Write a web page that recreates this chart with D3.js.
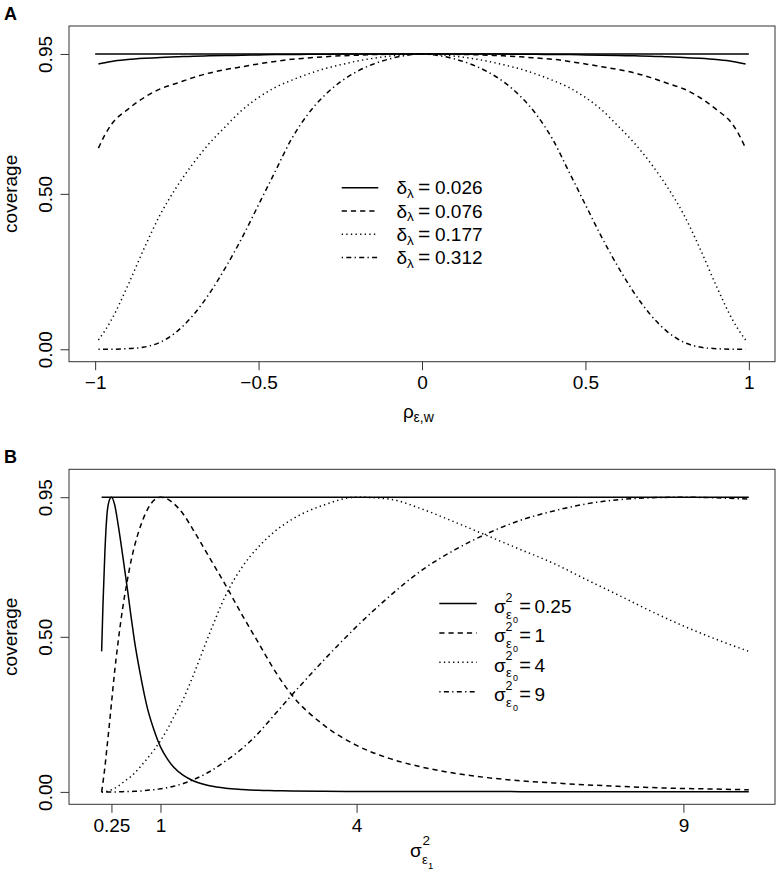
<!DOCTYPE html>
<html><head><meta charset="utf-8">
<script src="https://cdn.jsdelivr.net/npm/d3@7"></script>
<style>
body{margin:0;background:#fff}
text{font-family:"Liberation Sans",Arial,Helvetica,sans-serif;fill:#000}
</style>
</head><body>
<svg id="chart" width="780" height="871"></svg>
<script>
// ---------- DATA ----------
// Panel A: correlation rho and coverage for each delta_lambda
const rho = [-0.99,-0.97,-0.95,-0.9,-0.85,-0.8,-0.75,-0.7,-0.65,-0.6,-0.55,-0.5,-0.45,-0.4,-0.35,-0.3,-0.25,-0.2,-0.15,-0.1,-0.05,0,
             0.05,0.1,0.15,0.2,0.25,0.3,0.35,0.4,0.45,0.5,0.55,0.6,0.65,0.7,0.75,0.8,0.85,0.9,0.95,0.97,0.99];
const covDelta026 = [0.918,0.922,0.926,0.932,0.936,0.939,0.941,0.943,0.944,0.945,0.946,0.947,0.948,0.948,0.949,0.949,0.95,0.95,0.95,0.95,0.95,0.95,
                     0.95,0.95,0.95,0.95,0.95,0.949,0.949,0.948,0.948,0.947,0.946,0.945,0.944,0.943,0.941,0.939,0.936,0.932,0.926,0.922,0.918];
const covDelta076 = [0.647,0.69,0.724,0.772,0.81,0.838,0.856,0.874,0.889,0.9,0.909,0.918,0.926,0.933,0.937,0.941,0.944,0.946,0.948,0.949,0.95,0.95,
                     0.95,0.949,0.948,0.946,0.944,0.941,0.937,0.933,0.926,0.918,0.909,0.9,0.889,0.874,0.856,0.838,0.81,0.772,0.724,0.69,0.647];
const covDelta177 = [0.03,0.06,0.095,0.205,0.325,0.435,0.523,0.598,0.663,0.718,0.77,0.81,0.842,0.865,0.885,0.902,0.915,0.927,0.936,0.943,0.948,0.95,
                     0.948,0.943,0.936,0.927,0.915,0.902,0.885,0.865,0.842,0.81,0.77,0.718,0.663,0.598,0.523,0.435,0.325,0.205,0.095,0.06,0.03];
const covDelta312 = [0,0,0,0.002,0.007,0.023,0.057,0.11,0.18,0.265,0.36,0.465,0.57,0.675,0.755,0.815,0.86,0.893,0.917,0.934,0.945,0.95,
                     0.945,0.934,0.917,0.893,0.86,0.815,0.755,0.675,0.57,0.465,0.36,0.265,0.18,0.11,0.057,0.023,0.007,0.002,0,0,0];
const deltaLabels = ["0.026","0.076","0.177","0.312"];

// Panel B: sigma^2_eps1 and coverage for each sigma^2_eps0
const sigma1 = [0.1,0.12,0.15,0.18,0.21,0.25,0.3,0.35,0.4,0.45,0.5,0.55,0.6,0.7,0.8,0.9,1,1.1,1.2,1.35,1.5,1.75,2,2.25,2.5,2.75,3,
                3.5,4,4.5,5,5.5,6,6.5,7,7.5,8,8.5,9,9.5,10];
const covSigma025 = [0.453,0.6,0.775,0.89,0.935,0.95,0.925,0.865,0.795,0.72,0.645,0.565,0.49,0.37,0.27,0.2,0.145,0.108,0.08,0.053,0.036,0.02,0.012,0.008,0.005,0.004,0.003,
                     0.002,0.0015,0.001,0.001,0.001,0.001,0.0008,0.0007,0.0006,0.0005,0.0005,0.0004,0.0004,0.0003];
const covSigma1   = [0,0.03,0.08,0.14,0.2,0.285,0.39,0.48,0.56,0.63,0.69,0.745,0.79,0.86,0.91,0.94,0.95,0.945,0.93,0.895,0.845,0.755,0.665,0.57,0.48,0.39,0.315,
                     0.215,0.15,0.108,0.08,0.06,0.046,0.036,0.029,0.023,0.018,0.014,0.011,0.009,0.007];
const covSigma4   = [0,0,0.001,0.002,0.004,0.007,0.012,0.018,0.026,0.034,0.042,0.05,0.06,0.083,0.108,0.135,0.165,0.2,0.24,0.3,0.375,0.51,0.635,0.725,0.79,0.84,0.877,
                     0.925,0.95,0.944,0.912,0.87,0.826,0.782,0.738,0.686,0.635,0.583,0.535,0.492,0.453];
const covSigma9   = [0,0,0,0,0,0,0,0,0.0005,0.001,0.001,0.0015,0.002,0.003,0.005,0.007,0.01,0.013,0.018,0.027,0.039,0.065,0.1,0.14,0.19,0.25,0.31,
                     0.425,0.533,0.63,0.715,0.78,0.833,0.875,0.905,0.928,0.942,0.948,0.95,0.948,0.944];
const sigmaLabels = ["0.25","1","4","9"];

// nominal level and axis ticks
const nominal = 0.95;
const nominalSpanA = [-1, 1];
const nominalSpanB = [0.1, 10];
const yTicks = [0, 0.5, 0.95];
const yTickLabels = ["0.00","0.50","0.95"];
const xTicksA = [-1,-0.5,0,0.5,1];
const xTickLabelsA = ["\u22121","\u22120.5","0","0.5","1"];
const xTicksB = [0.25,1,4,9];
const xTickLabelsB = ["0.25","1","4","9"];

// ---------- STYLE ----------
const dashes = [null, "5.2,4", "1.3,3.3", "1.3,3.3,5,3.3"];
const FS = 19;
const svg = d3.select("#chart");

function panel(cfg){
  const {top, bottom, xDomain, xRange, xTicks, xLabels} = cfg;
  const x = d3.scaleLinear().domain(xDomain).range(xRange);
  const y = d3.scaleLinear().domain([0,1]).range([bottom - 0.04/1.08*(bottom-top), top + 0.04/1.08*(bottom-top)]);
  const left = 69, right = 775;
  const g = svg.append("g");
  g.append("rect").attr("x",left).attr("y",top).attr("width",right-left).attr("height",bottom-top)
    .attr("fill","none").attr("stroke","#333").attr("stroke-width",1);
  const xa = g.append("g").attr("transform",`translate(0,${bottom})`)
    .call(d3.axisBottom(x).tickValues(xTicks).tickFormat((d,i)=>xLabels[i]).tickSize(8.5).tickSizeOuter(0));
  xa.select(".domain").remove();
  xa.selectAll("line").attr("stroke","#333");
  xa.selectAll("text").attr("y",27.5).attr("dy",null).attr("font-size",FS)
    .attr("font-family",'"Liberation Sans",Arial,sans-serif').attr("fill","#000");
  const ya = g.append("g").attr("transform",`translate(${left},0)`)
    .call(d3.axisLeft(y).tickValues(yTicks).tickFormat((d,i)=>yTickLabels[i]).tickSize(8.5).tickSizeOuter(0));
  ya.select(".domain").remove();
  ya.selectAll("line").attr("stroke","#333");
  ya.selectAll("text").attr("transform","rotate(-90)").attr("x",0).attr("y",-17.3).attr("dy",null)
    .attr("text-anchor","middle").attr("font-size",FS)
    .attr("font-family",'"Liberation Sans",Arial,sans-serif').attr("fill","#000");
  const cy = (top+bottom)/2;
  g.append("text").attr("transform",`translate(16.5,${cy}) rotate(-90)`).attr("text-anchor","middle")
    .attr("font-size",FS).text("coverage");
  return {g, x, y};
}

function drawLines(p, xs, series, span){
  const line = d3.line().x(d=>p.x(d[0])).y(d=>p.y(d[1])).curve(d3.curveMonotoneX);
  p.g.append("path").attr("d", line(span.map(v=>[v, nominal])))
    .attr("fill","none").attr("stroke","#000").attr("stroke-width",1.5);
  series.forEach((s,i)=>{
    p.g.append("path").attr("d", line(xs.map((v,j)=>[v, s[j]])))
      .attr("fill","none").attr("stroke","#000").attr("stroke-width",1.5)
      .attr("stroke-dasharray", dashes[i]);
  });
}

function txt(g, x, y, size, str, anchor, weight){
  return g.append("text").attr("x",x).attr("y",y).attr("font-size",size)
    .attr("text-anchor",anchor||"start").attr("font-weight",weight||"normal").text(str);
}

// ---------- PANEL A ----------
const pA = panel({top:26, bottom:361.7, xDomain:[-1,1], xRange:[95.15,748.85], xTicks:xTicksA, xLabels:xTickLabelsA});
drawLines(pA, rho, [covDelta026, covDelta076, covDelta177, covDelta312], nominalSpanA);
txt(svg, 4, 20, 18, "A", "start", "bold");
txt(pA.g, 403, 418, FS, "\u03c1");
txt(pA.g, 413.5, 422, 14, "\u03b5,w");
deltaLabels.forEach((lab,i)=>{
  const yy = 187.7 + 23.3*i;
  pA.g.append("line").attr("x1",341.7).attr("x2",378.3).attr("y1",yy).attr("y2",yy)
    .attr("stroke","#000").attr("stroke-width",1.5).attr("stroke-dasharray",dashes[i]);
  txt(pA.g, 396.5, yy+6.6, FS, "\u03b4");
  txt(pA.g, 407, yy+10.3, 13.5, "\u03bb");
  txt(pA.g, 424.2, yy+6.6, 21, "=", "middle");
  txt(pA.g, 435, yy+6.6, FS, lab);
});

// ---------- PANEL B ----------
const pB = panel({top:469.3, bottom:804.3, xDomain:[0,10], xRange:[95.1,748.8], xTicks:xTicksB, xLabels:xTickLabelsB});
drawLines(pB, sigma1, [covSigma025, covSigma1, covSigma4, covSigma9], nominalSpanB);
txt(svg, 4, 463.3, 18, "B", "start", "bold");
txt(pB.g, 410, 857, FS, "\u03c3");
txt(pB.g, 422.5, 845, 13.5, "2");
txt(pB.g, 422, 864, 13, "\u03b5");
txt(pB.g, 428, 868.5, 9.5, "1");
sigmaLabels.forEach((lab,i)=>{
  const yy = 603.5 + 29.4*i;
  pB.g.append("line").attr("x1",439.3).attr("x2",476.7).attr("y1",yy).attr("y2",yy)
    .attr("stroke","#000").attr("stroke-width",1.5).attr("stroke-dasharray",dashes[i]);
  txt(pB.g, 494, yy+9.5, FS, "\u03c3");
  txt(pB.g, 505.5, yy-2, 12.5, "2");
  txt(pB.g, 506, yy+15, 13, "\u03b5");
  txt(pB.g, 513, yy+19, 9, "0");
  txt(pB.g, 525, yy+9.5, 20, "=", "middle");
  txt(pB.g, 534.5, yy+9.2, FS, lab);
});
</script>
</body></html>
